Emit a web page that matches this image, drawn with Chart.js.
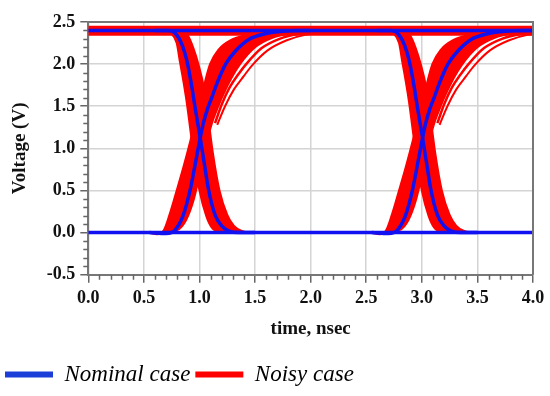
<!DOCTYPE html>
<html>
<head>
<meta charset="utf-8">
<script src="https://cdn.jsdelivr.net/npm/chart.js@4.4.1/dist/chart.umd.min.js"></script>
<style>
  html, body { margin: 0; padding: 0; background: #fff; }
  #wrap { width: 550px; height: 396px; }
</style>
</head>
<body>
<div id="wrap"><canvas id="eye"></canvas></div>
<script>
// axis ticks
const xTicks = [0.0, 0.5, 1.0, 1.5, 2.0, 2.5, 3.0, 3.5, 4.0];
const yTicks = [-0.5, 0.0, 0.5, 1.0, 1.5, 2.0, 2.5];

// nominal case, [time ns, volts]
const nomHigh = [[0.0, 2.40], [4.0, 2.40]];
const nomLow = [[0.0, 0.0], [4.0, 0.0]];
const nomFall1 = [[0.60,2.40],[0.72,2.40],[0.78,2.37],[0.84,2.24],[0.89,2.02],[0.93,1.74],[0.965,1.45],[1.00,1.18],[1.04,0.85],[1.08,0.52],[1.14,0.21],[1.20,0.08],[1.26,0.02],[1.35,0.0],[1.50,0.0]];
const nomRise1 = [[0.55,0.0],[0.70,-0.01],[0.78,0.03],[0.855,0.21],[0.915,0.50],[0.96,0.80],[1.00,1.08],[1.035,1.30],[1.07,1.46],[1.11,1.60],[1.16,1.78],[1.235,2.00],[1.32,2.15],[1.44,2.29],[1.59,2.36],[1.75,2.39],[2.0,2.40]];
const nomFall3 = [[2.60,2.40],[2.72,2.40],[2.78,2.37],[2.84,2.24],[2.89,2.02],[2.93,1.74],[2.965,1.45],[3.00,1.18],[3.04,0.85],[3.08,0.52],[3.14,0.21],[3.20,0.08],[3.26,0.02],[3.35,0.0],[3.50,0.0]];
const nomRise3 = [[2.55,0.0],[2.70,-0.01],[2.78,0.03],[2.855,0.21],[2.915,0.50],[2.96,0.80],[3.00,1.08],[3.035,1.30],[3.07,1.46],[3.11,1.60],[3.16,1.78],[3.235,2.00],[3.32,2.15],[3.44,2.29],[3.59,2.36],[3.75,2.39],[4.0,2.40]];

// noisy case: band edges and a few outlying traces
const noisyHigh = [[0.0, 2.395], [4.0, 2.395]];
const fallLeft1 = [[0.60,2.40],[0.70,2.40],[0.74,2.37],[0.795,2.25],[0.825,2.02],[0.855,1.80],[0.885,1.55],[0.915,1.25],[0.95,0.90],[1.00,0.50],[1.06,0.20],[1.11,0.06],[1.17,0.01],[1.30,0.0],[1.60,0.0]];
const fallRight1 = [[0.60,2.40],[0.84,2.40],[0.90,2.33],[0.945,2.19],[0.99,2.00],[1.04,1.72],[1.08,1.35],[1.12,0.95],[1.18,0.50],[1.25,0.21],[1.31,0.08],[1.38,0.02],[1.50,0.0],[1.60,0.0]];
const riseLeft1 = [[0.55,0.0],[0.62,-0.02],[0.68,0.03],[0.73,0.21],[0.795,0.50],[0.86,0.80],[0.92,1.10],[0.98,1.42],[1.04,1.74],[1.095,2.00],[1.17,2.17],[1.29,2.29],[1.425,2.35],[1.55,2.39],[1.70,2.40],[2.10,2.40]];
const riseRight1 = [[0.55,0.0],[0.65,0.0],[0.80,0.03],[0.88,0.15],[0.95,0.40],[1.00,0.68],[1.05,1.00],[1.11,1.29],[1.17,1.50],[1.215,1.64],[1.29,1.84],[1.365,2.00],[1.50,2.20],[1.65,2.31],[1.85,2.37],[2.10,2.39]];
const riseOut1a = [[1.14,1.30],[1.20,1.52],[1.27,1.72],[1.35,1.88],[1.42,2.00],[1.56,2.19],[1.72,2.30],[1.90,2.36],[2.15,2.39]];
const riseOut1b = [[1.16,1.28],[1.23,1.50],[1.31,1.70],[1.40,1.86],[1.47,1.98],[1.61,2.16],[1.78,2.28],[1.96,2.35],[2.20,2.38]];
const fallLeft3 = [[2.60,2.40],[2.70,2.40],[2.74,2.37],[2.795,2.25],[2.825,2.02],[2.855,1.80],[2.885,1.55],[2.915,1.25],[2.95,0.90],[3.00,0.50],[3.06,0.20],[3.11,0.06],[3.17,0.01],[3.30,0.0],[3.60,0.0]];
const fallRight3 = [[2.60,2.40],[2.84,2.40],[2.90,2.33],[2.945,2.19],[2.99,2.00],[3.04,1.72],[3.08,1.35],[3.12,0.95],[3.18,0.50],[3.25,0.21],[3.31,0.08],[3.38,0.02],[3.50,0.0],[3.60,0.0]];
const riseLeft3 = [[2.55,0.0],[2.62,-0.02],[2.68,0.03],[2.73,0.21],[2.795,0.50],[2.86,0.80],[2.92,1.10],[2.98,1.42],[3.04,1.74],[3.095,2.00],[3.17,2.17],[3.29,2.29],[3.425,2.35],[3.55,2.39],[3.70,2.40],[4.00,2.40]];
const riseRight3 = [[2.55,0.0],[2.65,0.0],[2.80,0.03],[2.88,0.15],[2.95,0.40],[3.00,0.68],[3.05,1.00],[3.11,1.29],[3.17,1.50],[3.215,1.64],[3.29,1.84],[3.365,2.00],[3.50,2.20],[3.65,2.31],[3.85,2.37],[4.00,2.385]];
const riseOut3a = [[3.14,1.30],[3.20,1.52],[3.27,1.72],[3.35,1.88],[3.42,2.00],[3.56,2.19],[3.72,2.30],[3.90,2.36],[4.00,2.375]];
const riseOut3b = [[3.16,1.28],[3.23,1.50],[3.31,1.70],[3.40,1.86],[3.47,1.98],[3.61,2.16],[3.78,2.28],[3.96,2.35],[4.00,2.355]];

const BLUE = "#1010f0";
const RED = "#ff0000";
const pts = arr => arr.map(p => ({ x: p[0], y: p[1] }));

function blueLine(arr) {
    return { data: pts(arr), borderColor: BLUE, borderWidth: 3.5, order: 0 };
}
function redLine(arr, width, fill) {
    return { data: pts(arr), borderColor: RED, backgroundColor: RED, borderWidth: width, fill: fill || false, order: 1 };
}

// a band's left edge is filled across to the next dataset (its right edge)
const datasets = [
    blueLine(nomHigh), blueLine(nomLow),
    blueLine(nomFall1), blueLine(nomRise1), blueLine(nomFall3), blueLine(nomRise3),
    redLine(noisyHigh, 10),
    redLine(fallLeft1, 2, "+1"), redLine(fallRight1, 2),
    redLine(riseLeft1, 2, "+1"), redLine(riseRight1, 2),
    redLine(riseOut1a, 2.5), redLine(riseOut1b, 2),
    redLine(fallLeft3, 2, "+1"), redLine(fallRight3, 2),
    redLine(riseLeft3, 2, "+1"), redLine(riseRight3, 2),
    redLine(riseOut3a, 2.5), redLine(riseOut3b, 2)
];

const serif = "'Liberation Serif', 'Times New Roman', serif";

// minor ticks every 0.1 and the top/right frame
const framePlugin = {
    id: "frame",
    afterDraw(chart) {
        const { ctx, chartArea: a, scales: { x, y } } = chart;
        ctx.save();
        ctx.strokeStyle = "#666";
        ctx.lineWidth = 1.5;
        ctx.beginPath();
        for (let i = 1; i < 40; i++) {
            if (i % 5 === 0) continue;
            const px = Math.round(x.getPixelForValue(i / 10)) + 0.5;
            ctx.moveTo(px, a.bottom);
            ctx.lineTo(px, a.bottom + 5);
        }
        for (let i = -4; i < 25; i++) {
            if (i % 5 === 0) continue;
            const py = Math.round(y.getPixelForValue(i / 10)) + 0.5;
            ctx.moveTo(a.left - 5, py);
            ctx.lineTo(a.left, py);
        }
        ctx.stroke();
        ctx.strokeStyle = "#777";
        ctx.lineWidth = 2;
        ctx.beginPath();
        ctx.moveTo(a.left, a.top);
        ctx.lineTo(a.right, a.top);
        ctx.lineTo(a.right, a.bottom);
        ctx.stroke();
        ctx.restore();
    }
};

new Chart(document.getElementById("eye"), {
    type: "line",
    data: { datasets: datasets },
    plugins: [framePlugin],
    options: {
        responsive: true,
        maintainAspectRatio: false,
        animation: false,
        elements: {
            point: { radius: 0 },
            line: { cubicInterpolationMode: "monotone", borderCapStyle: "butt" }
        },
        layout: { padding: { top: 22, right: 17, left: 0, bottom: 0 } },
        plugins: {
            tooltip: { enabled: false },
            legend: {
                position: "bottom",
                align: "start",
                labels: {
                    boxWidth: 48,
                    boxHeight: 6,
                    padding: 5,
                    color: "#111",
                    font: { family: serif, size: 23, style: "italic" },
                    generateLabels: () => [
                        { text: "Nominal case", fillStyle: "#1c3ed8", strokeStyle: "#1c3ed8", lineWidth: 0, hidden: false, datasetIndex: 0 },
                        { text: "Noisy case", fillStyle: RED, strokeStyle: RED, lineWidth: 0, hidden: false, datasetIndex: 6 }
                    ]
                }
            }
        },
        scales: {
            x: {
                type: "linear",
                min: 0,
                max: 4,
                afterFit: s => { s.height = 83.3; },
                afterBuildTicks: s => { s.ticks = xTicks.map(v => ({ value: v })); },
                ticks: {
                    color: "#111",
                    padding: 5,
                    maxRotation: 0,
                    font: { family: serif, size: 18, weight: "bold" },
                    callback: v => Number(v).toFixed(1)
                },
                grid: { color: "#d4d4d4", lineWidth: 1.5, tickColor: "#666", tickLength: 8, tickWidth: 1.5 },
                border: { color: "#777", width: 2 },
                title: {
                    display: true,
                    text: "time, nsec",
                    color: "#111",
                    font: { family: serif, size: 19, weight: "bold" },
                    padding: { top: 0, bottom: 18 }
                }
            },
            y: {
                type: "linear",
                min: -0.5,
                max: 2.5,
                afterFit: s => { s.width = 88.3; },
                afterBuildTicks: s => { s.ticks = yTicks.map(v => ({ value: v })); },
                ticks: {
                    color: "#111",
                    padding: 5,
                    font: { family: serif, size: 18, weight: "bold" },
                    callback: v => Number(v).toFixed(1)
                },
                grid: { color: "#d4d4d4", lineWidth: 1.5, tickColor: "#666", tickLength: 8, tickWidth: 1.5 },
                border: { color: "#777", width: 2 },
                title: {
                    display: true,
                    text: "Voltage (V)",
                    color: "#111",
                    font: { family: serif, size: 19, weight: "bold" },
                    padding: { top: 9, bottom: 0 }
                }
            }
        }
    }
});
</script>
</body>
</html>
